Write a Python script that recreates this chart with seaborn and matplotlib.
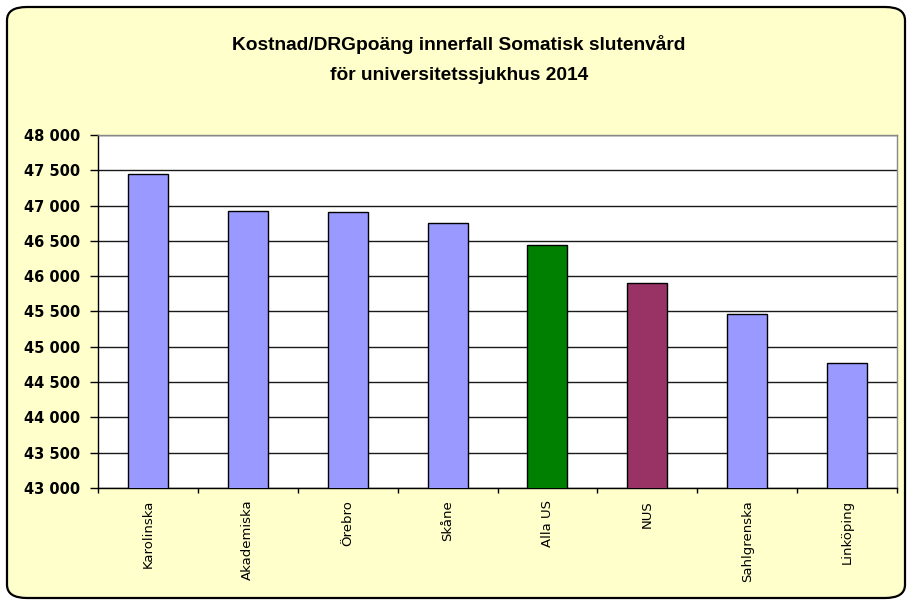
import matplotlib
matplotlib.use("Agg")
import matplotlib.pyplot as plt
import seaborn as sns
import pandas as pd
import numpy as np
from matplotlib.patches import FancyBboxPatch
from matplotlib.ticker import FuncFormatter, FixedLocator, MultipleLocator

categories = ["Karolinska", "Akademiska", "Örebro", "Skåne", "Alla US", "NUS", "Sahlgrenska", "Linköping"]
values = [47450, 46928, 46905, 46754, 46438, 45908, 45469, 44775]
colors = ["#9999FF", "#9999FF", "#9999FF", "#9999FF", "#008000", "#993366", "#9999FF", "#9999FF"]
title_lines = ["Kostnad/DRGpoäng innerfall Somatisk slutenvård", "för universitetssjukhus 2014"]

sns.set_theme(style="white")
plt.rcParams['font.family'] = ['DejaVu Sans']
plt.rcParams['text.color'] = 'black'
plt.rcParams['xtick.color'] = 'black'
plt.rcParams['ytick.color'] = 'black'

df = pd.DataFrame({"cat": categories, "val": values})

fig = plt.figure(figsize=(9.07, 6.02), dpi=100)
fig.patch.set_facecolor("white")
frame = FancyBboxPatch((7 / 907, 4 / 602), 898 / 907, 591 / 602,
                       boxstyle="round,pad=0,rounding_size=0.022",
                       transform=fig.transFigure, facecolor="#FFFFCC",
                       edgecolor="black", linewidth=1.6, zorder=-5)
fig.patches.append(frame)

ax = fig.add_axes([98 / 907, 1 - 488 / 602, 799 / 907, 353 / 602])
ax.set_zorder(2)
ax.set_facecolor("white")
sns.barplot(data=df, x="cat", y="val", hue="cat", palette=colors, legend=False,
            saturation=1, width=0.4, edgecolor="black", linewidth=1.0, ax=ax, zorder=3)
ax.set_ylim(43000, 48000)
ax.set_xlim(-0.5, len(categories) - 0.5)
ax.yaxis.set_major_locator(MultipleLocator(500))
ax.yaxis.set_major_formatter(FuncFormatter(lambda v, p: f"{int(v):,}".replace(",", " ")))
ax.grid(axis="y", color="#1a1a1a", linewidth=1.0, zorder=1)
ax.set_axisbelow(True)
ax.set_xlabel("")
ax.set_ylabel("")

for s in ["top", "right"]:
    ax.spines[s].set_color("#888888")
    ax.spines[s].set_linewidth(1.0)
for s in ["left", "bottom"]:
    ax.spines[s].set_color("black")
    ax.spines[s].set_linewidth(1.0)

ax.set_xticks(range(len(categories)))
ax.set_xticklabels(categories, rotation=90, fontsize=9.5, va="top", ha="center")
ax.xaxis.set_minor_locator(FixedLocator(np.arange(-0.5, len(categories), 1.0)))
ax.tick_params(axis="x", which="major", length=0, pad=8.5)
ax.tick_params(axis="x", which="minor", length=3.8, width=1, color="black", direction="out", bottom=True)
ax.tick_params(axis="y", which="major", length=5.5, width=1, color="black", direction="out", left=True, pad=7.5)
for lab in ax.get_yticklabels():
    lab.set_fontweight("bold")
    lab.set_fontsize(10.5)

for line, y in zip(title_lines, [45, 75]):
    fig.text(0.506, 1 - y / 602, line, ha="center", va="center", color="black",
             fontsize=13.8, fontweight="bold", family=["Liberation Sans", "DejaVu Sans"])

fig.savefig("out.png", dpi=100, facecolor=fig.get_facecolor())
